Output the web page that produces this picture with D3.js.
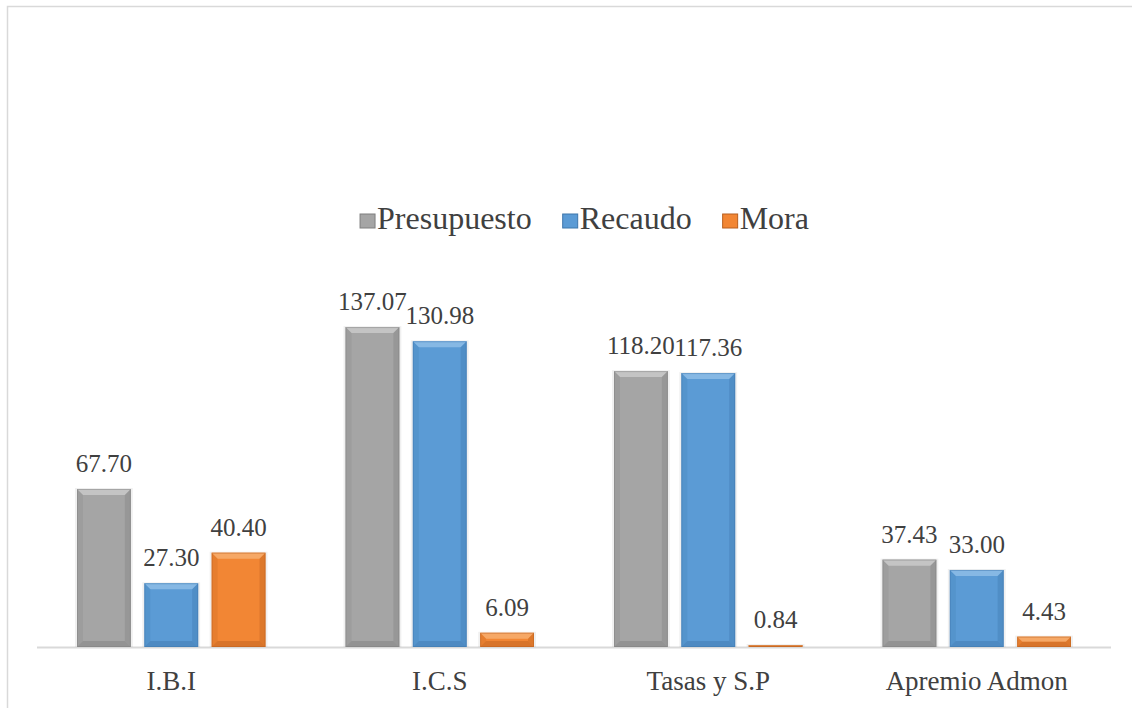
<!DOCTYPE html>
<html>
<head>
<meta charset="utf-8">
<script src="https://cdn.jsdelivr.net/npm/d3@7"></script>
</head>
<body style="margin:0">
<svg id="chart" width="1132" height="708"></svg>
<script>
const categories = ["I.B.I", "I.C.S", "Tasas y S.P", "Apremio Admon"];
const seriesNames = ["Presupuesto", "Recaudo", "Mora"];
const presupuesto = [67.70, 137.07, 118.20, 37.43];
const recaudo = [27.30, 130.98, 117.36, 33.00];
const mora = [40.40, 6.09, 0.84, 4.43];
const seriesValues = [presupuesto, recaudo, mora];

const colors = {
  Presupuesto: { base: "#A5A5A5", light: "#C4C4C4", dark: "#7F7F7F" },
  Recaudo: { base: "#5B9BD5", light: "#86B8E4", dark: "#3D76AB" },
  Mora: { base: "#F28634", light: "#F6A866", dark: "#B85F1E" }
};

const svg = d3.select("#chart");
const textColor = "#404040";
const font = '"Liberation Serif"';

svg.append("path")
  .attr("d", "M7.5,708 L7.5,6.5 L1132,6.5")
  .attr("fill", "none").attr("stroke", "#d9d9d9").attr("stroke-width", 1.5);

const baseY = 647;
const x0 = d3.scaleBand().domain(categories).range([37, 1111]).paddingInner(0).paddingOuter(0);
const x1 = d3.scaleBand().domain(seriesNames).range([40, x0.bandwidth() - 40]).paddingInner(0.2).paddingOuter(0);
const y = d3.scaleLinear().domain([0, 150]).range([baseY, baseY - 350.1]);

svg.append("line")
  .attr("x1", x0.range()[0]).attr("x2", x0.range()[1])
  .attr("y1", baseY + 0.5).attr("y2", baseY + 0.5)
  .attr("stroke", "#d9d9d9").attr("stroke-width", 2);

const data = [];
categories.forEach((cat, i) => {
  seriesNames.forEach((s, j) => {
    data.push({ cat, s, v: seriesValues[j][i] });
  });
});

const bars = svg.append("g").selectAll("g.bar").data(data).join("g").attr("class", "bar");
bars.each(function(d) {
  const g = d3.select(this);
  const c = colors[d.s];
  const bx = x0(d.cat) + x1(d.s);
  const bw = x1.bandwidth();
  const top = y(d.v);
  const h = baseY - top;
  const b = Math.min(6, h / 2, bw / 2);
  g.append("rect").attr("x", bx - 2).attr("y", top - 1).attr("width", bw + 4).attr("height", h + 1)
    .attr("fill", "#000").attr("opacity", 0.06);
  g.append("rect").attr("x", bx).attr("y", top).attr("width", bw).attr("height", h)
    .attr("fill", c.base);
  g.append("path").attr("d", `M${bx},${top} L${bx + bw},${top} L${bx + bw - b},${top + b} L${bx + b},${top + b} Z`)
    .attr("fill", c.light);
  g.append("path").attr("d", `M${bx},${top} L${bx + b},${top + b} L${bx + b},${baseY - b} L${bx},${baseY} Z`)
    .attr("fill", c.dark).attr("opacity", 0.2);
  g.append("path").attr("d", `M${bx + bw},${top} L${bx + bw - b},${top + b} L${bx + bw - b},${baseY - b} L${bx + bw},${baseY} Z`)
    .attr("fill", c.dark).attr("opacity", 0.35);
  g.append("path").attr("d", `M${bx},${baseY} L${bx + b},${baseY - b} L${bx + bw - b},${baseY - b} L${bx + bw},${baseY} Z`)
    .attr("fill", c.dark).attr("opacity", 0.45);
  g.append("rect").attr("x", bx + 0.5).attr("y", top + 0.5).attr("width", bw - 1).attr("height", Math.max(0, h - 1))
    .attr("fill", "none").attr("stroke", c.dark).attr("stroke-opacity", 0.45).attr("stroke-width", 1);
});

svg.append("g").selectAll("text").data(data).join("text")
  .attr("x", d => x0(d.cat) + x1(d.s) + x1.bandwidth() / 2)
  .attr("y", d => y(d.v) - 17)
  .attr("text-anchor", "middle")
  .style("font-family", font).attr("font-size", 25).attr("fill", textColor)
  .text(d => d.v.toFixed(2));

svg.append("g").selectAll("text").data(categories).join("text")
  .attr("x", d => x0(d) + x0.bandwidth() / 2)
  .attr("y", 690)
  .attr("text-anchor", "middle")
  .style("font-family", font).attr("font-size", 27).attr("fill", textColor)
  .text(d => d);

const legend = svg.append("g");
const items = legend.selectAll("g").data(seriesNames).join("g");
items.append("rect").attr("width", 15).attr("height", 14).attr("y", -7)
  .attr("fill", d => colors[d].base).attr("stroke", d => colors[d].dark).attr("stroke-width", 1);
items.append("text").attr("x", 17).attr("y", 8)
  .style("font-family", font).attr("font-size", 32).attr("fill", textColor)
  .text(d => d);
const widths = [];
items.each(function() {
  widths.push(this.querySelector("text").getComputedTextLength() + 17);
});
const gap = 31;
const total = d3.sum(widths) + gap * (widths.length - 1);
let start = 584.5 - total / 2;
items.attr("transform", (d, i) => {
  const t = `translate(${start},221)`;
  start += widths[i] + gap;
  return t;
});
</script>
</body>
</html>
